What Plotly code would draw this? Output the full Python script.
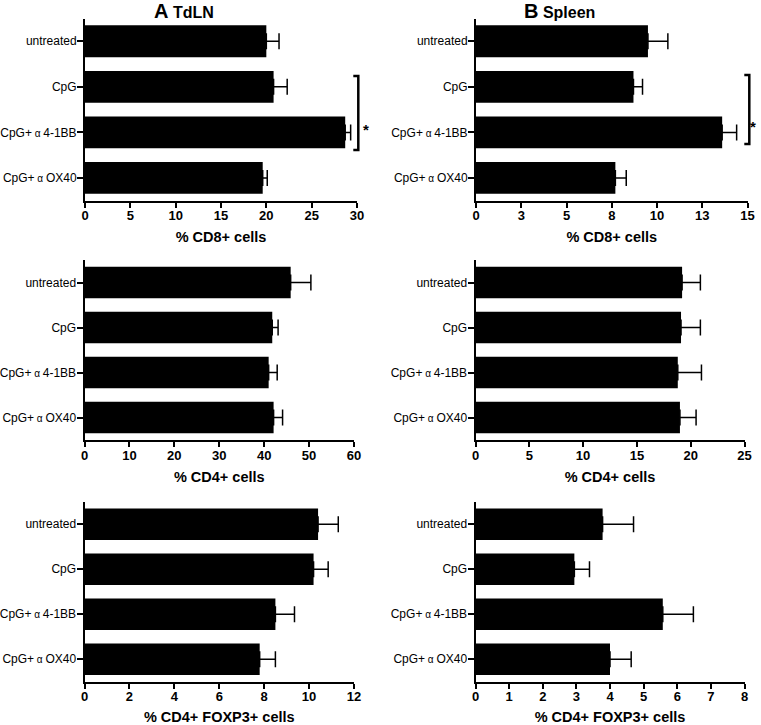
import plotly.graph_objects as go

W, H = 761, 725
font_family = "Arial, Liberation Sans, sans-serif"

alpha = "<span style='font-size:10px'> α </span>"
groups = ["untreated", "CpG", "CpG+" + alpha + "4-1BB", "CpG+" + alpha + "OX40"]

# TdLN (column A)
tdln_cd8 = [20.0, 20.8, 28.7, 19.6]
tdln_cd8_err = [1.4, 1.5, 0.6, 0.5]
tdln_cd4 = [45.9, 41.8, 41.0, 42.1]
tdln_cd4_err = [4.5, 1.3, 1.9, 2.0]
tdln_foxp3 = [10.4, 10.2, 8.5, 7.8]
tdln_foxp3_err = [0.9, 0.65, 0.85, 0.7]

# Spleen (column B)
spleen_cd8 = [9.5, 8.7, 13.6, 7.7]
spleen_cd8_err = [1.1, 0.5, 0.8, 0.6]
spleen_cd4 = [19.2, 19.1, 18.8, 19.0]
spleen_cd4_err = [1.7, 1.8, 2.2, 1.5]
spleen_foxp3 = [3.78, 2.94, 5.57, 4.0]
spleen_foxp3_err = [0.92, 0.45, 0.91, 0.63]

# tick values / labels
tdln_cd8_ticks = [0, 5, 10, 15, 20, 25, 30]
spleen_cd8_ticks = [0, 2.5, 5, 7.5, 10, 12.5, 15]
spleen_cd8_ticktext = ["0", "3", "5", "8", "10", "13", "15"]
tdln_cd4_ticks = [0, 10, 20, 30, 40, 50, 60]
spleen_cd4_ticks = [0, 5, 10, 15, 20, 25]
tdln_foxp3_ticks = [0, 2, 4, 6, 8, 10, 12]
spleen_foxp3_ticks = [0, 1, 2, 3, 4, 5, 6, 7, 8]

xtitles = ["% CD8+ cells", "% CD8+ cells", "% CD4+ cells", "% CD4+ cells",
           "% CD4+ FOXP3+ cells", "% CD4+ FOXP3+ cells"]


def px(x):
    return x / W


def py(y):
    return 1 - y / H


# (values, errors, tickvals, ticktext, x pixel span, y pixel span)
panels = [
    (tdln_cd8, tdln_cd8_err, tdln_cd8_ticks, None, (85, 357), (18.5, 200.7)),
    (spleen_cd8, spleen_cd8_err, spleen_cd8_ticks, spleen_cd8_ticktext, (476, 747.5), (18.5, 200.7)),
    (tdln_cd4, tdln_cd4_err, tdln_cd4_ticks, None, (84.5, 354), (260, 440)),
    (spleen_cd4, spleen_cd4_err, spleen_cd4_ticks, None, (475.5, 744.5), (260, 440)),
    (tdln_foxp3, tdln_foxp3_err, tdln_foxp3_ticks, None, (84.5, 354), (501.7, 681.7)),
    (spleen_foxp3, spleen_foxp3_err, spleen_foxp3_ticks, None, (475.5, 744.5), (501.7, 681.7)),
]

fig = go.Figure()
layout = {}

for i, (vals, errs, tickvals, ticktext, xs, ys) in enumerate(panels, start=1):
    suffix = "" if i == 1 else str(i)
    fig.add_trace(go.Bar(
        x=vals, y=groups, orientation="h",
        marker=dict(color="black", line=dict(width=0)),
        error_x=dict(type="data", array=errs, arrayminus=[0] * len(errs), symmetric=False,
                     color="black", thickness=1.5, width=8),
        xaxis="x" + suffix, yaxis="y" + suffix, showlegend=False,
        hoverinfo="skip",
    ))
    layout["xaxis" + suffix] = dict(
        domain=[px(xs[0]), px(xs[1])], anchor="y" + suffix, automargin=False,
        range=[0, tickvals[-1]], tickvals=tickvals,
        ticktext=ticktext if ticktext else [str(t) for t in tickvals],
        showline=True, linecolor="black", linewidth=2,
        ticks="outside", ticklen=5, tickwidth=2, tickcolor="black",
        ticklabelstandoff=-3,
        tickfont=dict(family=font_family, size=13, color="black", weight="bold"),
        showgrid=False, zeroline=False,
        title=dict(text=xtitles[i - 1], standoff=10,
                   font=dict(family=font_family, size=14.5, color="black", weight="bold")),
    )
    layout["yaxis" + suffix] = dict(
        domain=[py(ys[1]), py(ys[0])], anchor="x" + suffix, automargin=False,
        type="category", autorange="reversed",
        showline=True, linecolor="black", linewidth=2,
        ticks="outside", ticklen=6, tickwidth=2, tickcolor="black",
        ticklabelstandoff=-2,
        tickfont=dict(family=font_family, size=12, color="black"),
        showgrid=False, zeroline=False,
    )

# significance brackets
shapes = []
for xb, y0, y1 in [(358.3, 76, 150), (749.3, 75, 144)]:
    shapes.append(dict(
        type="path", xref="paper", yref="paper",
        path=f"M {px(xb - 5)},{py(y0)} L {px(xb)},{py(y0)} L {px(xb)},{py(y1)} L {px(xb - 5)},{py(y1)}",
        line=dict(color="black", width=2.5),
    ))

annotations = [
    dict(text="<span style='font-size:20px'>A</span> TdLN", x=px(152), y=py(11),
         xref="paper", yref="paper", xanchor="left", yanchor="middle", showarrow=False,
         font=dict(family=font_family, size=16, color="black", weight="bold")),
    dict(text="<span style='font-size:20px'>B</span> Spleen", x=px(522), y=py(11),
         xref="paper", yref="paper", xanchor="left", yanchor="middle", showarrow=False,
         font=dict(family=font_family, size=16, color="black", weight="bold")),
    dict(text="*", x=px(365.5), y=py(119), xref="paper", yref="paper",
         showarrow=False, font=dict(family=font_family, size=15, color="black", weight="bold")),
    dict(text="*", x=px(757.5), y=py(116), xref="paper", yref="paper",
         showarrow=False, font=dict(family=font_family, size=15, color="black", weight="bold")),
]

fig.update_layout(
    width=W, height=H,
    margin=dict(l=0, r=0, t=0, b=0),
    plot_bgcolor="white", paper_bgcolor="white",
    bargap=0.3,
    shapes=shapes, annotations=annotations,
    **layout,
)

# the page's default body margin would push the 761x725 figure off the window
fig.write_html("out.html", config={"displayModeBar": False},
               post_script="document.body.style.margin='0';")
